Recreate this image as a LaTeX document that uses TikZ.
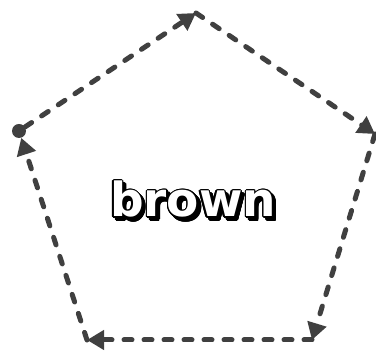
\documentclass[tikz,border=0pt]{standalone}
\usepackage{fontspec}
\setmainfont{DejaVu Sans}
\usepackage[copies]{contour}
\usetikzlibrary{arrows.meta}
\definecolor{cEdge}{RGB}{64,64,64}
\contourlength{1.4pt}
\tikzset{
	edge/.style={draw=cEdge, line width=5pt, line cap=round, dash pattern=on 8pt off 12pt, -{Triangle[length=17pt, width=19pt]}},
	vdot/.style={circle, fill=cEdge, minimum size=14pt, inner sep=0pt},
	word/.style={font=\fontsize{47}{52}\selectfont\bfseries, inner sep=0pt, anchor=base},
}
\begin{document}
\begin{tikzpicture}[x=1pt, y=-1pt]
	\useasboundingbox (0,0) rectangle (376,352);
	% pentagon corners
	\node[vdot] (pL) at (19,131) {};
	\coordinate (pT) at (196,13);
	\coordinate (pR) at (375,134);
	\coordinate (pBR) at (312,340);
	\coordinate (pBL) at (87,340);
	% cycle of dashed arrows
	\draw[edge] (pL) -- (pT);
	\draw[edge] (pT) -- (pR);
	\draw[edge] (pR) -- (pBR);
	\draw[edge] (pBR) -- (pBL);
	\draw[edge] (pBL) -- (pL);
	% label with shadow
	\node[word, text=black] (shadow) at (196,220) {\contour{black}{brown}};
	\node[word, text=white] (label) at (193,217) {\contour{black}{brown}};
\end{tikzpicture}
\end{document}
